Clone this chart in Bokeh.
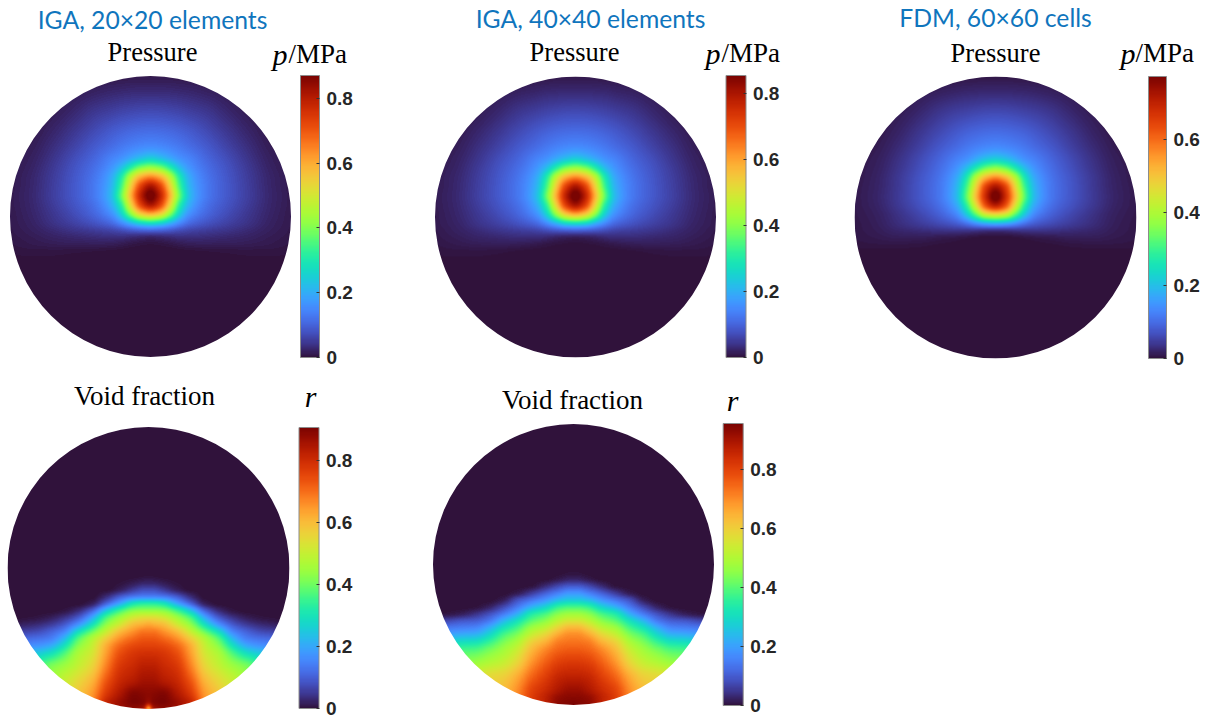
import numpy as np
from bokeh.core.properties import value
from bokeh.embed import file_html
from bokeh.models import ColorBar, FixedTicker, LinearColorMapper, Range1d
from bokeh.palettes import Turbo256
from bokeh.plotting import figure
from bokeh.resources import INLINE

# ---------- data ----------
HEADERS = ["IGA, 20×20 elements", "IGA, 40×40 elements", "FDM, 60×60 cells"]
TICKS = [0, 0.2, 0.4, 0.6, 0.8]
P_MAX = [0.87, 0.855, 0.774]
R_MAX = [0.906, 0.956]

# field samples: columns = distance from the vertical axis, rows = height, both as a fraction of the disc radius
P_U = [0, .07, .14, .21, .28, .4, .55, .7, .85, 1]
P_V = [1, .9, .75, .6, .5, .42, .35, .28, .21, .15, .09, .02, -.05, -.1, -.15, -.2, -.25, -.4, -1]
PRESSURE_20 = [
    [.008, .008, .008, .007, .007, .006, .005, .004, .004, .004],
    [.028, .028, .027, .025, .023, .018, .012, .007, .005, .004],
    [.068, .067, .064, .06, .054, .044, .026, .013, .006, .005],
    [.115, .113, .108, .1, .09, .07, .045, .024, .01, .006],
    [.155, .15, .14, .127, .112, .088, .058, .033, .014, .007],
    [.24, .22, .19, .16, .14, .103, .07, .04, .018, .008],
    [.42, .39, .31, .22, .165, .115, .078, .046, .021, .009],
    [.65, .6, .47, .3, .195, .125, .083, .05, .024, .01],
    [.83, .74, .55, .34, .21, .13, .085, .052, .025, .01],
    [.89, .79, .59, .37, .22, .13, .085, .053, .026, .011],
    [.83, .74, .54, .32, .2, .12, .08, .05, .025, .011],
    [.6, .55, .41, .25, .16, .105, .07, .044, .023, .01],
    [.27, .25, .2, .145, .105, .078, .056, .038, .02, .01],
    [.1, .095, .085, .07, .06, .05, .04, .028, .017, .009],
    [.018, .022, .027, .032, .033, .03, .025, .02, .013, .008],
    [.003, .004, .007, .011, .014, .015, .015, .013, .01, .006],
    [0, 0, 0, .001, .002, .003, .004, .005, .005, .004],
    [0, 0, 0, 0, 0, 0, 0, 0, 0, 0],
    [0, 0, 0, 0, 0, 0, 0, 0, 0, 0],
]
PRESSURE_40 = [
    [.008, .008, .008, .007, .007, .006, .005, .004, .004, .004],
    [.027, .027, .026, .025, .022, .018, .012, .007, .005, .004],
    [.067, .066, .063, .059, .053, .043, .026, .013, .006, .005],
    [.113, .111, .106, .098, .088, .069, .045, .025, .011, .006],
    [.153, .148, .138, .125, .11, .087, .058, .034, .015, .007],
    [.236, .216, .187, .157, .138, .102, .07, .041, .019, .008],
    [.415, .385, .305, .215, .163, .114, .078, .047, .022, .01],
    [.64, .59, .465, .295, .19, .124, .083, .051, .025, .011],
    [.815, .73, .54, .335, .205, .129, .085, .053, .026, .011],
    [.875, .78, .58, .365, .215, .129, .085, .054, .027, .012],
    [.815, .73, .53, .315, .195, .119, .08, .051, .026, .012],
    [.59, .54, .405, .245, .158, .104, .07, .045, .024, .011],
    [.255, .24, .19, .14, .102, .077, .056, .039, .021, .011],
    [.085, .082, .076, .066, .056, .049, .04, .029, .018, .009],
    [.01, .012, .017, .024, .029, .029, .025, .021, .014, .008],
    [.001, .002, .003, .005, .008, .012, .014, .013, .01, .006],
    [0, 0, 0, .001, .001, .002, .004, .005, .005, .004],
    [0, 0, 0, 0, 0, 0, 0, 0, 0, 0],
    [0, 0, 0, 0, 0, 0, 0, 0, 0, 0],
]
PRESSURE_60 = [
    [.006, .006, .006, .006, .005, .005, .004, .004, .004, .004],
    [.023, .023, .022, .021, .019, .015, .01, .006, .004, .004],
    [.06, .059, .056, .052, .048, .038, .022, .011, .005, .004],
    [.102, .1, .095, .088, .078, .06, .038, .019, .008, .005],
    [.138, .133, .124, .112, .098, .076, .048, .026, .011, .006],
    [.215, .2, .17, .14, .122, .09, .058, .032, .014, .007],
    [.37, .34, .27, .195, .145, .1, .064, .036, .016, .008],
    [.58, .53, .41, .26, .17, .108, .07, .04, .018, .008],
    [.74, .66, .48, .3, .185, .112, .072, .041, .019, .009],
    [.795, .69, .51, .32, .19, .112, .072, .042, .02, .009],
    [.72, .64, .46, .28, .17, .103, .067, .04, .019, .009],
    [.46, .43, .32, .205, .13, .085, .055, .033, .016, .008],
    [.16, .15, .125, .095, .075, .058, .042, .028, .014, .007],
    [.02, .022, .027, .03, .032, .03, .025, .02, .012, .007],
    [0, 0, .001, .003, .005, .008, .012, .012, .009, .006],
    [0, 0, 0, 0, .001, .002, .004, .005, .005, .004],
    [0, 0, 0, 0, 0, 0, .001, .001, .001, .001],
    [0, 0, 0, 0, 0, 0, 0, 0, 0, 0],
    [0, 0, 0, 0, 0, 0, 0, 0, 0, 0],
]
R_U = [0, .03, .1, .2, .3, .4, .5, .6, .7, .8, .9, 1]
R_V = [1, -.05, -.1, -.15, -.2, -.25, -.3, -.35, -.4, -.45, -.5, -.55, -.6, -.7, -.8, -.9, -.95, -1]
VOID_20 = [
    [0, 0, 0, 0, 0, 0, 0, 0, 0, 0, 0, 0],
    [.002, .002, 0, 0, 0, 0, 0, 0, 0, 0, 0, 0],
    [.02, .02, .012, .003, 0, 0, 0, 0, 0, 0, 0, 0],
    [.07, .07, .05, .015, 0, 0, 0, 0, 0, 0, 0, 0],
    [.14, .14, .13, .09, .03, 0, 0, 0, 0, 0, 0, 0],
    [.32, .32, .3, .2, .1, .015, 0, 0, 0, 0, 0, 0],
    [.43, .43, .42, .35, .24, .1, .03, .005, 0, 0, 0, 0],
    [.54, .54, .52, .45, .36, .2, .09, .04, .015, .005, .002, 0],
    [.63, .62, .6, .52, .43, .29, .17, .09, .05, .03, .02, .01],
    [.69, .69, .66, .6, .5, .39, .28, .15, .1, .07, .06, .05],
    [.73, .73, .71, .66, .57, .47, .37, .22, .14, .12, .11, .1],
    [.76, .76, .75, .71, .62, .5, .42, .29, .2, .17, .16, .15],
    [.79, .79, .78, .74, .64, .52, .46, .36, .28, .24, .21, .2],
    [.83, .83, .81, .78, .68, .56, .5, .45, .41, .35, .3, .25],
    [.86, .86, .84, .81, .73, .61, .55, .5, .45, .4, .35, .3],
    [.885, .89, .9, .85, .78, .65, .58, .52, .47, .42, .37, .32],
    [.87, .895, .905, .87, .81, .66, .58, .52, .47, .42, .37, .32],
    [.55, .84, .88, .87, .81, .66, .58, .52, .47, .42, .37, .32],
]
VOID_40 = [
    [0, 0, 0, 0, 0, 0, 0, 0, 0, 0, 0, 0],
    [.003, .003, 0, 0, 0, 0, 0, 0, 0, 0, 0, 0],
    [.02, .02, .01, 0, 0, 0, 0, 0, 0, 0, 0, 0],
    [.09, .09, .07, .03, .002, 0, 0, 0, 0, 0, 0, 0],
    [.18, .18, .15, .1, .05, .01, 0, 0, 0, 0, 0, 0],
    [.26, .26, .24, .18, .13, .08, .015, 0, 0, 0, 0, 0],
    [.38, .38, .36, .28, .22, .14, .07, .02, .002, 0, 0, 0],
    [.47, .47, .45, .38, .33, .22, .14, .08, .04, .015, .005, 0],
    [.55, .55, .52, .45, .4, .31, .23, .14, .1, .09, .07, .06],
    [.64, .64, .6, .52, .47, .38, .31, .22, .16, .15, .14, .13],
    [.7, .7, .67, .59, .53, .44, .38, .29, .23, .22, .2, .18],
    [.73, .73, .72, .65, .59, .49, .43, .36, .31, .3, .27, .24],
    [.76, .76, .75, .7, .63, .53, .47, .42, .38, .37, .33, .3],
    [.82, .82, .81, .76, .69, .59, .53, .5, .47, .45, .4, .36],
    [.87, .87, .86, .81, .75, .66, .6, .58, .55, .5, .45, .4],
    [.92, .92, .9, .85, .8, .7, .63, .6, .57, .52, .47, .42],
    [.94, .94, .93, .87, .81, .71, .63, .6, .57, .52, .47, .42],
    [.96, .95, .94, .87, .81, .71, .63, .6, .57, .52, .47, .42],
]

# ---------- layout in page pixels ----------
PANELS = [
    dict(cx=150, cy=216, rad=140.5, bar=(300, 75.5, 19, 281.5)),
    dict(cx=575, cy=216.5, rad=140.5, bar=(725.5, 75, 19.5, 282)),
    dict(cx=995, cy=217, rad=141, bar=(1148, 76.5, 18, 281.5)),
    dict(cx=148, cy=567.5, rad=141, bar=(298.5, 427, 19.5, 281)),
    dict(cx=573, cy=564, rad=140.5, bar=(722.7, 423, 19.5, 282)),
]
WIDTH, TOP = 1200, 718


def pchip(xs, ys, xq):
    """Shape-preserving resampling of read samples (no new extremes)."""
    h = np.diff(xs)
    d = np.diff(ys) / h
    m = np.zeros_like(ys)
    for i in range(1, len(xs) - 1):
        if d[i - 1] * d[i] > 0:
            w1, w2 = 2 * h[i] + h[i - 1], h[i] + 2 * h[i - 1]
            m[i] = (w1 + w2) / (w1 / d[i - 1] + w2 / d[i])
    m[0], m[-1] = d[0], d[-1]
    idx = np.clip(np.searchsorted(xs, xq) - 1, 0, len(h) - 1)
    t = (xq - xs[idx]) / h[idx]
    return ((2 * t**3 - 3 * t**2 + 1) * ys[idx] + (t**3 - 2 * t**2 + t) * h[idx] * m[idx]
            + (-2 * t**3 + 3 * t**2) * ys[idx + 1] + (t**3 - t**2) * h[idx] * m[idx + 1])


def field(us, vs, rows, rad):
    """Render the read samples onto the disc's pixels."""
    us = np.array(us, float)
    vs = np.array(vs, float)[::-1]
    rows = np.array(rows, float)[::-1]
    n = int(round(2 * rad))
    axis = (np.arange(n) + 0.5) / (n / 2) - 1
    uu = np.concatenate([-us[:0:-1], us])
    vals = np.hstack([rows[:, :0:-1], rows])
    across = np.array([pchip(uu, row, axis) for row in vals])
    img = np.array([pchip(vs, across[:, j], axis) for j in range(n)]).T
    k = np.ones(3) / 3
    for _ in range(2):
        pad = np.pad(img, 1, mode="edge")
        img = np.apply_along_axis(lambda a: np.convolve(a, k, "valid"), 0, pad)
        img = np.apply_along_axis(lambda a: np.convolve(a, k, "valid"), 1, img)
    xx, yy = np.meshgrid(axis, axis)
    img[np.hypot(xx, yy) > 1 + 2.5 / rad] = np.nan
    return img


p = figure(width=WIDTH, height=TOP, x_range=Range1d(0, WIDTH), y_range=Range1d(0, TOP),
           output_backend="svg", toolbar_location=None, min_border=0)
p.xaxis.visible = False
p.yaxis.visible = False
p.grid.visible = False
p.outline_line_color = None

fields = [(P_U, P_V, PRESSURE_20, P_MAX[0]), (P_U, P_V, PRESSURE_40, P_MAX[1]), (P_U, P_V, PRESSURE_60, P_MAX[2]),
          (R_U, R_V, VOID_20, R_MAX[0]), (R_U, R_V, VOID_40, R_MAX[1])]

for panel, (us, vs, rows, top) in zip(PANELS, fields):
    cx, cy, rad = panel["cx"], panel["cy"], panel["rad"]
    mapper = LinearColorMapper(palette=Turbo256, low=0, high=top, nan_color="rgba(0,0,0,0)")
    p.image(image=[field(us, vs, rows, rad)], x=cx - rad, y=TOP - (cy + rad), dw=2 * rad, dh=2 * rad,
            color_mapper=mapper)
    p.annulus(x=[cx], y=[TOP - cy], inner_radius=rad, outer_radius=rad + 5, fill_color="white", line_color=None)
    bx, by, bw, bh = panel["bar"]
    bar = ColorBar(color_mapper=mapper, ticker=FixedTicker(ticks=TICKS), location=(bx, TOP - (by + bh)),
                   width=int(round(bw)), height=int(round(bh)), padding=0, margin=0,
                   bar_line_color="#8c8c8c", bar_line_width=1,
                   major_tick_line_color="#333333", major_tick_in=3, major_tick_out=0,
                   minor_tick_line_color=None, label_standoff=7,
                   major_label_text_font="Liberation Sans", major_label_text_font_style="bold",
                   major_label_text_font_size="19px", major_label_text_color="#262626",
                   background_fill_color=None, border_line_color=None)
    p.add_layout(bar, "center")


def put(x, y, txt, font, size, color="black", style="normal", align="center"):
    p.text(x=[x], y=[TOP - y], text=[txt], text_font=value(font), text_font_size=size, text_color=color,
           text_font_style=style, text_align=align, text_baseline="middle")


for x, y, t in zip([152, 590, 995], [19, 18, 17], HEADERS):
    put(x, y, t, "Lato", "24.7px", color="#0F75BD")
for x, y in [(152, 51), (574, 51), (995, 52)]:
    put(x, y, "Pressure", "Liberation Serif", "26.5px")
for x, y in [(144, 395), (572, 399)]:
    put(x, y, "Void fraction", "Liberation Serif", "27px")
for x, y in [(272, 54), (705, 53), (1120, 53)]:
    put(x, y, "p", "Liberation Serif", "30px", style="italic", align="left")
for x, y in [(288, 53), (721, 52), (1135, 52)]:
    put(x, y, "/MPa", "Liberation Serif", "27px", align="left")
for x, y in [(310, 396), (732, 400)]:
    put(x, y, "r", "Liberation Serif", "30px", style="italic")

open("out.html", "w").write(file_html(p, INLINE))
